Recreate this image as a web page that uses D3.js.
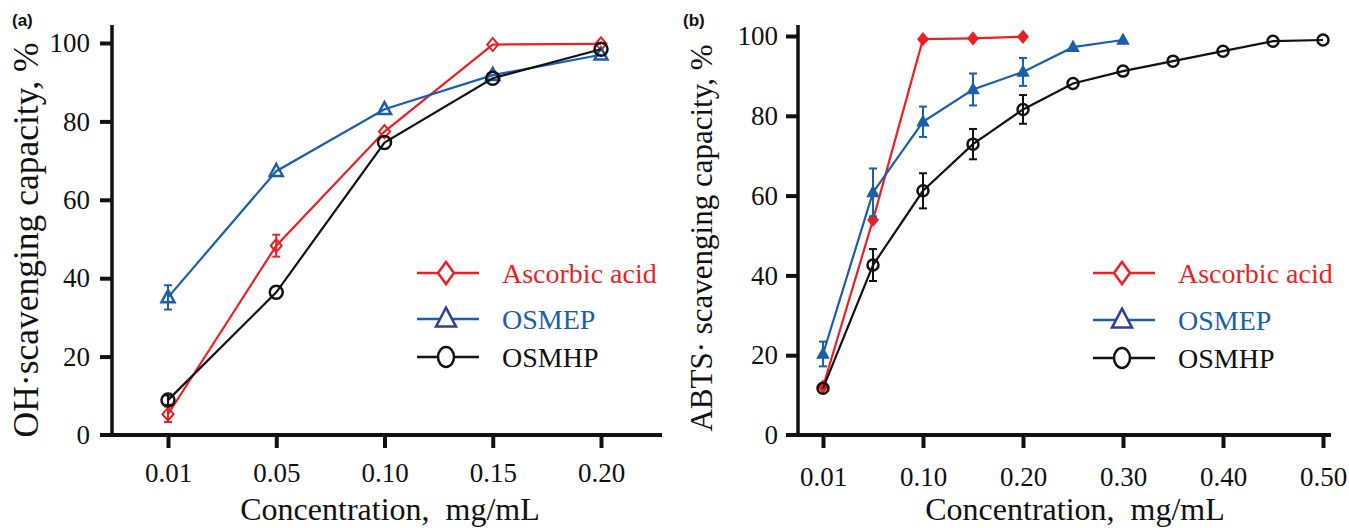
<!DOCTYPE html>
<html>
<head>
<meta charset="utf-8">
<script src="https://cdnjs.cloudflare.com/ajax/libs/d3/7.8.5/d3.min.js"></script>
<style>
  html, body { margin: 0; padding: 0; background: #fff; }
  svg { display: block; }
  text { font-family: "Liberation Serif", "Times New Roman", serif; }
</style>
</head>
<body>
<svg id="chart" width="1349" height="528"></svg>
<script>
// panel (a): OH radical scavenging
const ohCats = ['0.01', '0.05', '0.10', '0.15', '0.20'];
const ohAscorbic = [5.3, 48.3, 77.4, 99.6, 99.8];
const ohAscorbicErr = [2.0, 2.8, 0.8, 0.5, 0.5];
const ohOsmep = [35.1, 67.3, 83.1, 91.8, 97.0];
const ohOsmepErr = [3.1, 0.8, 0.8, 0.7, 0.6];
const ohOsmhp = [8.9, 36.4, 74.6, 91.0, 98.4];
const ohOsmhpErr = [1.2, 1.0, 0.8, 0.6, 0.5];

// panel (b): ABTS radical scavenging
const abtsCats = ['0.01', '0.05', '0.10', '0.15', '0.20', '0.25', '0.30', '0.35', '0.40', '0.45', '0.50'];
const abtsTicks = ['0.01', '0.10', '0.20', '0.30', '0.40', '0.50'];
const abtsAscorbic = [12.1, 53.9, 99.2, 99.4, 99.8];
const abtsAscorbicErr = [1.0, 1.0, 0.5, 0.4, 0.4];
const abtsOsmep = [20.3, 60.8, 78.5, 86.6, 91.0, 97.2, 99.0];
const abtsOsmepErr = [3.1, 6.0, 3.8, 4.0, 3.5, 0.8, 0.8];
const abtsOsmhp = [11.7, 42.6, 61.2, 72.9, 81.6, 88.1, 91.2, 93.7, 96.2, 98.7, 99.0];
const abtsOsmhpErr = [1.0, 4.0, 4.4, 3.8, 3.6, 0.5, 0.4, 0.4, 0.4, 0.3, 0.3];

const yTicks = [0, 20, 40, 60, 80, 100];
const seriesNames = ['Ascorbic acid', 'OSMEP', 'OSMHP'];
const seriesColors = ['#ec1f24', '#1b5ea9', '#111111'];
const legendMarkColors = ['#ec1f24', '#2f3f9c', '#111111'];

const svg = d3.select('#chart');

// marker shapes, all centred on 0,0
function diamond (w, h) {
  return 'M0,' + (-h) + 'L' + w + ',0L0,' + h + 'L' + (-w) + ',0Z';
}
function triangle (w, h) {
  return 'M0,' + (-h * 0.6) + 'L' + (w / 2) + ',' + (h * 0.4) + 'L' + (-w / 2) + ',' + (h * 0.4) + 'Z';
}
function ellipse (rx, ry) {
  return 'M' + (-rx) + ',0A' + rx + ',' + ry + ' 0 1,0 ' + rx + ',0A' + rx + ',' + ry + ' 0 1,0 ' + (-rx) + ',0Z';
}

function drawPanel (cfg) {
  const g = svg.append('g');
  const x = d3.scalePoint().domain(cfg.cats).range(cfg.xRange);
  const y = d3.scaleLinear().domain([0, 100]).range([cfg.y0, cfg.y100]);

  // left axis
  const yAxis = g.append('g')
    .attr('transform', 'translate(' + cfg.axisX + ',0)')
    .call(d3.axisLeft(y).tickValues(yTicks).tickSize(12).tickPadding(cfg.yPad));
  yAxis.select('.domain').remove();
  yAxis.selectAll('.tick line').attr('stroke', '#111').attr('stroke-width', 4)
    .filter(d => d === 0).remove();
  yAxis.selectAll('.tick text').attr('font-size', 27).attr('fill', '#111')
    .style('font-family', '"Liberation Serif", "Times New Roman", serif');

  // bottom axis
  const xAxis = g.append('g')
    .attr('transform', 'translate(0,' + cfg.y0 + ')')
    .call(d3.axisBottom(x).tickValues(cfg.ticks).tickSize(13).tickPadding(cfg.xPad));
  xAxis.select('.domain').remove();
  xAxis.selectAll('.tick line').attr('stroke', '#111').attr('stroke-width', 4);
  xAxis.selectAll('.tick text').attr('font-size', 27).attr('fill', '#111')
    .style('font-family', '"Liberation Serif", "Times New Roman", serif');

  // axis lines drawn by hand so the x line pokes out left of the y line
  g.append('line')
    .attr('x1', cfg.axisX).attr('x2', cfg.axisX)
    .attr('y1', cfg.axisTop).attr('y2', cfg.y0 + 2)
    .attr('stroke', '#111').attr('stroke-width', 3.5);
  g.append('line')
    .attr('x1', cfg.axisX - 12).attr('x2', cfg.axisRight)
    .attr('y1', cfg.y0).attr('y2', cfg.y0)
    .attr('stroke', '#111').attr('stroke-width', 4);

  // series
  const line = d3.line().x(d => x(d.c)).y(d => y(d.v));
  cfg.series.forEach((s, i) => {
    const pts = s.values.map((v, j) => ({ c: cfg.cats[j], v, e: s.errs[j] }));
    const col = seriesColors[i];
    const sg = g.append('g');
    sg.append('path').datum(pts)
      .attr('d', line).attr('fill', 'none')
      .attr('stroke', col).attr('stroke-width', 2.2);
    const eb = sg.selectAll('.err').data(pts.filter(d => d.e > 1)).join('g').attr('class', 'err');
    eb.append('line')
      .attr('x1', d => x(d.c)).attr('x2', d => x(d.c))
      .attr('y1', d => y(d.v - d.e)).attr('y2', d => y(d.v + d.e))
      .attr('stroke', col).attr('stroke-width', 2);
    [-1, 1].forEach(sgn => {
      eb.append('line')
        .attr('x1', d => x(d.c) - 4).attr('x2', d => x(d.c) + 4)
        .attr('y1', d => y(d.v + sgn * d.e)).attr('y2', d => y(d.v + sgn * d.e))
        .attr('stroke', col).attr('stroke-width', 2);
    });
    sg.selectAll('.mark').data(pts).join('path').attr('class', 'mark')
      .attr('transform', d => 'translate(' + x(d.c) + ',' + y(d.v) + ')')
      .attr('d', cfg.marks[i])
      .attr('fill', cfg.filled[i] ? col : 'none')
      .attr('stroke', col).attr('stroke-width', cfg.markStroke[i]);
  });

  // legend
  const legendMarks = [diamond(8, 11), triangle(20, 19), ellipse(8, 10)];
  seriesNames.forEach((name, i) => {
    const ly = cfg.legendY[i];
    g.append('line')
      .attr('x1', cfg.legendX).attr('x2', cfg.legendX + 62)
      .attr('y1', ly).attr('y2', ly)
      .attr('stroke', seriesColors[i]).attr('stroke-width', 2.5);
    g.append('path')
      .attr('transform', 'translate(' + (cfg.legendX + 29) + ',' + ly + ')')
      .attr('d', legendMarks[i]).attr('fill', '#fff')
      .attr('stroke', legendMarkColors[i]).attr('stroke-width', 2.5);
    g.append('text')
      .attr('x', cfg.legendX + 85).attr('y', ly + 10)
      .attr('font-size', 28).attr('fill', seriesColors[i] === '#111111' ? '#111' : seriesColors[i])
      .text(name);
  });

  // titles
  g.append('text')
    .attr('transform', 'translate(' + cfg.yTitleX + ',' + cfg.yTitleY + ') rotate(-90)')
    .attr('text-anchor', 'middle').attr('font-size', cfg.yTitleSize).attr('fill', '#111')
    .text(cfg.yTitle);
  g.append('text')
    .attr('x', cfg.xTitleX).attr('y', 520)
    .attr('text-anchor', 'middle').attr('font-size', 32).attr('fill', '#111')
    .style('white-space', 'pre')
    .text('Concentration,  mg/mL');
  g.append('text')
    .attr('x', cfg.tagX).attr('y', 26)
    .attr('font-size', 17).attr('font-weight', 'bold').attr('fill', '#111')
    .style('font-family', '"Liberation Sans", Arial, sans-serif')
    .text(cfg.tag);
}

drawPanel({
  tag: '(a)', tagX: 12,
  cats: ohCats, ticks: ohCats,
  xRange: [168, 601], y0: 435, y100: 43,
  axisX: 112, axisTop: 25, axisRight: 662,
  yPad: 10, xPad: 15,
  series: [
    { values: ohAscorbic, errs: ohAscorbicErr },
    { values: ohOsmep, errs: ohOsmepErr },
    { values: ohOsmhp, errs: ohOsmhpErr }
  ],
  marks: [diamond(5.5, 6.5), triangle(13, 12), ellipse(6.5, 6.5)],
  filled: [false, false, false],
  markStroke: [2, 2.5, 2.5],
  legendX: 417, legendY: [273, 319, 357],
  yTitle: 'OH·scavenging capacity, %', yTitleX: 38, yTitleY: 240, yTitleSize: 35.5,
  xTitleX: 390
});

drawPanel({
  tag: '(b)', tagX: 683,
  cats: abtsCats, ticks: abtsTicks,
  xRange: [823, 1323], y0: 435, y100: 36,
  axisX: 798, axisTop: 25, axisRight: 1331,
  yPad: 8, xPad: 19,
  series: [
    { values: abtsAscorbic, errs: abtsAscorbicErr },
    { values: abtsOsmep, errs: abtsOsmepErr },
    { values: abtsOsmhp, errs: abtsOsmhpErr }
  ],
  marks: [diamond(5, 6), triangle(11, 10), ellipse(5.5, 5.5)],
  filled: [true, true, false],
  markStroke: [1.5, 1.5, 2.5],
  legendX: 1093, legendY: [273, 320, 358],
  yTitle: 'ABTS· scavenging capacity, %', yTitleX: 712, yTitleY: 238, yTitleSize: 31,
  xTitleX: 1075
});
</script>
</body>
</html>
